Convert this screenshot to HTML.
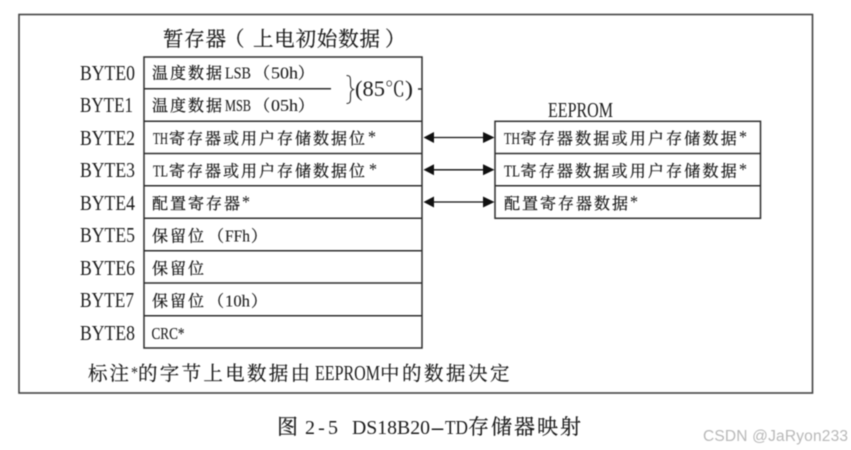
<!DOCTYPE html>
<html lang="zh">
<head>
<meta charset="utf-8">
<style>
html,body{margin:0;padding:0;background:#fff;width:851px;height:450px;overflow:hidden}
svg{display:block;filter:blur(.4px)}
text{font-family:"Liberation Serif","Noto Serif CJK SC",serif;fill:#1c1c1c;white-space:pre}
.b{font-size:21px}
.c text{font-size:16px;letter-spacing:2px;stroke:#1c1c1c;stroke-width:.25px}
.c text.n{font-size:17px;letter-spacing:0;stroke:#1c1c1c;stroke-width:.1px}
.c text.s{font-size:18px;letter-spacing:0;stroke:none}
.l{stroke:#2e2e2e;stroke-width:1.5;fill:none}
</style>
</head>
<body>
<svg width="851" height="450" viewBox="0 0 851 450" xmlns="http://www.w3.org/2000/svg">
<rect width="851" height="450" fill="#fff"/>
<rect x="19" y="14.500" width="793.500" height="378.500" fill="none" stroke="#444" stroke-width="1.6"/>

<g font-size="20.500" stroke="#1c1c1c" stroke-width=".2">
<text x="163" y="46" letter-spacing=".8">暂存器</text>
<text x="224" y="46">（</text>
<text x="253" y="46" letter-spacing=".8">上电初始数据</text>
<text x="385" y="46">）</text>
</g>

<!-- register box -->
<rect x="144" y="57" width="278" height="291" class="l"/>
<path class="l" d="M144 88.700H331M144 121.300H422M144 153.500H422M144 185.800H422M144 218.300H422M144 250.700H422M144 283H422M144 315.700H422"/>

<!-- byte labels -->
<g class="b">
<text x="80" y="80" textLength="55" lengthAdjust="spacingAndGlyphs">BYTE0</text>
<text x="80" y="112" textLength="53" lengthAdjust="spacingAndGlyphs">BYTE1</text>
<text x="80" y="145" textLength="55" lengthAdjust="spacingAndGlyphs">BYTE2</text>
<text x="80" y="177" textLength="55" lengthAdjust="spacingAndGlyphs">BYTE3</text>
<text x="80" y="210" textLength="55" lengthAdjust="spacingAndGlyphs">BYTE4</text>
<text x="80" y="242" textLength="55" lengthAdjust="spacingAndGlyphs">BYTE5</text>
<text x="80" y="275" textLength="55" lengthAdjust="spacingAndGlyphs">BYTE6</text>
<text x="80" y="307" textLength="54" lengthAdjust="spacingAndGlyphs">BYTE7</text>
<text x="80" y="340" textLength="55" lengthAdjust="spacingAndGlyphs">BYTE8</text>
</g>

<!-- register rows -->
<g class="c">
<text x="152" y="78.500">温度数据</text>
<text class="n" x="225" y="78.500" textLength="26" lengthAdjust="spacingAndGlyphs">LSB</text>
<text x="254" y="78.500">（</text>
<text class="n" x="271" y="78.500" textLength="27" lengthAdjust="spacingAndGlyphs">50h</text>
<text x="298" y="78.500">）</text>

<text x="152" y="111">温度数据</text>
<text class="n" x="225" y="111" textLength="26" lengthAdjust="spacingAndGlyphs">MSB</text>
<text x="254" y="111">（</text>
<text class="n" x="271" y="111" textLength="27" lengthAdjust="spacingAndGlyphs">05h</text>
<text x="298" y="111">）</text>

<text class="n" x="153" y="144" textLength="15" lengthAdjust="spacingAndGlyphs">TH</text>
<text x="169" y="144">寄存器或用户存储数据位</text>
<text class="s" x="368" y="143" textLength="8" lengthAdjust="spacingAndGlyphs">*</text>

<text class="n" x="153" y="176.500" textLength="15" lengthAdjust="spacingAndGlyphs">TL</text>
<text x="169" y="176.500">寄存器或用户存储数据位</text>
<text class="s" x="369" y="175.500" textLength="8" lengthAdjust="spacingAndGlyphs">*</text>

<text x="152" y="209">配置寄存器</text>
<text class="s" x="242" y="208" textLength="8" lengthAdjust="spacingAndGlyphs">*</text>

<text x="152" y="241.500">保留位</text>
<text x="208" y="241.500">（</text>
<text class="n" x="225" y="241.500" textLength="25" lengthAdjust="spacingAndGlyphs">FFh</text>
<text x="251" y="241.500">）</text>

<text x="152" y="274">保留位</text>

<text x="152" y="306.500">保留位</text>
<text x="208" y="306.500">（</text>
<text class="n" x="225" y="306.500" textLength="25" lengthAdjust="spacingAndGlyphs">10h</text>
<text x="251" y="306.500">）</text>

<text class="n" x="151.500" y="339" textLength="33" lengthAdjust="spacingAndGlyphs">CRC*</text>
</g>

<!-- brace and 85C -->
<path d="M346.500 75.500C350 75.500 350.500 77 350.500 81V84C350.500 87 351 88.500 353.500 89.500C351 90.500 350.500 92 350.500 95V98C350.500 102 350 103.500 346.500 103.500" fill="none" stroke="#2e2e2e" stroke-width="1.100"/>
<text x="355" y="96" font-size="22" textLength="30" lengthAdjust="spacingAndGlyphs">(85</text>
<text x="385" y="96" font-size="20">℃</text>
<text x="405" y="96" font-size="22" textLength="8" lengthAdjust="spacingAndGlyphs">)</text>
<path class="l" d="M418 89H422"/>

<!-- EEPROM -->
<text x="548" y="117" font-size="21" textLength="65" lengthAdjust="spacingAndGlyphs">EEPROM</text>
<rect x="495" y="121.300" width="265.500" height="97" class="l"/>
<path class="l" d="M495 153.500H760.500M495 185.800H760.500"/>
<g class="c">
<text class="n" x="504" y="144" textLength="16" lengthAdjust="spacingAndGlyphs">TH</text>
<text x="520.500" y="144" style="letter-spacing:2.200px">寄存器数据或用户存储数据</text>
<text class="s" x="739" y="143" textLength="8" lengthAdjust="spacingAndGlyphs">*</text>
<text class="n" x="504" y="176.500" textLength="16" lengthAdjust="spacingAndGlyphs">TL</text>
<text x="520.500" y="176.500" style="letter-spacing:2.200px">寄存器数据或用户存储数据</text>
<text class="s" x="739" y="175.500" textLength="8" lengthAdjust="spacingAndGlyphs">*</text>
<text x="504" y="209">配置寄存器数据</text>
<text class="s" x="630" y="208" textLength="8" lengthAdjust="spacingAndGlyphs">*</text>
</g>

<!-- arrows -->
<g fill="#111" stroke="#111">
<path d="M432 137.500H485" stroke-width="1.300"/>
<path d="M432 169.800H485" stroke-width="1.300"/>
<path d="M432 202H485" stroke-width="1.300"/>
<g stroke="none">
<path d="M423.500 137.500L434 132V143Z"/><path d="M494.500 137.500L483 132V143Z"/>
<path d="M423.500 169.800L434 164.300V175.300Z"/><path d="M494.500 169.800L483 164.300V175.300Z"/>
<path d="M423.500 202L434 196.500V207.500Z"/><path d="M494.500 202L483 196.500V207.500Z"/>
</g>
</g>

<!-- footer note -->
<g font-size="19.500" stroke="#1c1c1c" stroke-width=".2">
<text x="88" y="380" letter-spacing="2">标注</text>
<text x="131" y="378" font-size="17" textLength="7" lengthAdjust="spacingAndGlyphs" stroke="none">*</text>
<text x="138" y="380" letter-spacing="2.300">的字节上电数据由</text>
<text x="315" y="380" font-size="21" textLength="65" lengthAdjust="spacingAndGlyphs" stroke="none">EEPROM</text>
<text x="380" y="380" letter-spacing="2.500">中的数据决定</text>
</g>

<!-- caption -->
<g font-size="21" stroke="#1c1c1c" stroke-width=".2">
<text x="277" y="434">图</text>
<text x="305" y="434" font-size="20" textLength="33" stroke="none">2-5</text>
<text x="352" y="434" font-size="20" textLength="78" lengthAdjust="spacingAndGlyphs" stroke="none">DS18B20</text>
<text x="430" y="434" font-size="20" textLength="15" lengthAdjust="spacingAndGlyphs" stroke="none">-</text>
<text x="445" y="434" font-size="20" textLength="23" lengthAdjust="spacingAndGlyphs" stroke="none">TD</text>
<text x="468" y="434" letter-spacing="2">存储器映射</text>
</g>

<!-- watermark -->
<text x="703" y="441" style="font-family:'Liberation Sans',sans-serif;fill:#b8b8b8" font-size="15.500" textLength="145">CSDN @JaRyon233</text>
</svg>
</body>
</html>
